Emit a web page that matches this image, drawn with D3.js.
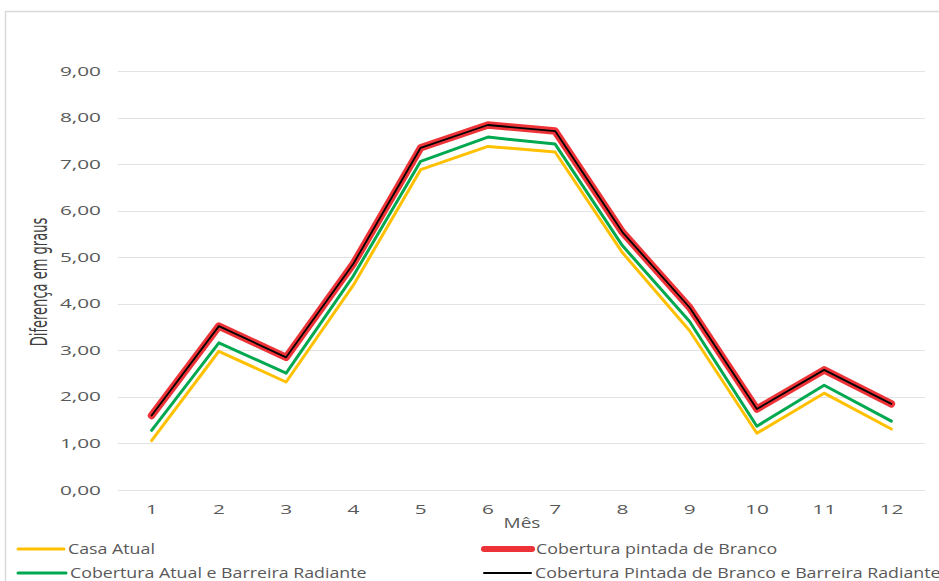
<!DOCTYPE html>
<html>
<head>
<meta charset="utf-8">
<script src="https://cdn.jsdelivr.net/npm/d3@7"></script>
<style>
  html, body { margin: 0; padding: 0; background: #fff; }
  svg { display: block; }
</style>
</head>
<body>
<svg id="chart" width="939" height="581"></svg>
<script>
const months = ["1","2","3","4","5","6","7","8","9","10","11","12"];
const casaAtual = [1.06, 2.98, 2.32, 4.40, 6.88, 7.38, 7.26, 5.10, 3.42, 1.22, 2.08, 1.31];
const coberturaAtualBarreira = [1.28, 3.16, 2.51, 4.60, 7.06, 7.58, 7.43, 5.25, 3.62, 1.37, 2.25, 1.48];
const coberturaPintada = [1.60, 3.52, 2.85, 4.86, 7.35, 7.84, 7.71, 5.54, 3.92, 1.74, 2.58, 1.85];
const coberturaPintadaBarreira = [1.60, 3.52, 2.85, 4.86, 7.35, 7.84, 7.71, 5.54, 3.92, 1.74, 2.58, 1.85];
const yTicks = [0, 1, 2, 3, 4, 5, 6, 7, 8, 9];
const seriesNames = ["Casa Atual", "Cobertura pintada de Branco", "Cobertura Atual e Barreira Radiante", "Cobertura Pintada de Branco e Barreira Radiante"];

const svg = d3.select("#chart");
const SX = 1.6;   // horizontal stretch of tick text
const SXL = 1.27; // horizontal stretch of legend text
const font = "'Open Sans', 'Noto Sans', sans-serif";

// chart frame
svg.append("rect").attr("x", 5.5).attr("y", 11.5).attr("width", 960).attr("height", 600)
  .attr("fill", "#fff").attr("stroke", "#d9d9d9").attr("stroke-width", 1.5);

const x = d3.scalePoint().domain(months).range([118, 925]).padding(0.5);
const y = d3.scaleLinear().domain([0, 9]).range([490, 71]);

// gridlines
svg.append("g").selectAll("line").data(yTicks).join("line")
  .attr("x1", 118).attr("x2", 925)
  .attr("y1", d => Math.round(y(d)) + 0.5).attr("y2", d => Math.round(y(d)) + 0.5)
  .attr("stroke", "#e3e3e3").attr("stroke-width", 1.2);

const fmt = d => d3.format(".2f")(d).replace(".", ",");

// y tick labels
svg.append("g").selectAll("text").data(yTicks).join("text")
  .attr("transform", d => `translate(101,${y(d) + 4.5}) scale(${SX},1)`)
  .attr("text-anchor", "end")
  .attr("font-family", font).attr("font-size", 13).attr("fill", "#595959")
  .text(fmt);

// x tick labels
svg.append("g").selectAll("text").data(months).join("text")
  .attr("transform", d => `translate(${x(d)},${514}) scale(${SX},1)`)
  .attr("text-anchor", "middle")
  .attr("font-family", font).attr("font-size", 13).attr("fill", "#595959")
  .text(d => d);

// axis titles
svg.append("text")
  .attr("transform", `translate(522,528) scale(${SXL},1)`)
  .attr("text-anchor", "middle")
  .attr("font-family", font).attr("font-size", 15).attr("fill", "#595959")
  .text("Mês");

svg.append("text")
  .attr("transform", `translate(47,282) rotate(-90) scale(1,${SX})`)
  .attr("text-anchor", "middle")
  .attr("font-family", "'Liberation Sans Narrow', 'DejaVu Sans Condensed', sans-serif")
  .attr("font-size", 14.5).attr("fill", "#404040")
  .text("Diferença em graus");

// lines
const line = d3.line().x((d, i) => x(months[i])).y(d => y(d));
const seriesDefs = [
  { data: casaAtual, color: "#FFC000", width: 3 },
  { data: coberturaAtualBarreira, color: "#00A84F", width: 3 },
  { data: coberturaPintada, color: "#EE3338", width: 7.5 },
  { data: coberturaPintadaBarreira, color: "#000000", width: 1.8 }
];
svg.append("g").selectAll("path").data(seriesDefs).join("path")
  .attr("d", d => line(d.data))
  .attr("fill", "none")
  .attr("stroke", d => d.color)
  .attr("stroke-width", d => d.width)
  .attr("stroke-linejoin", "round")
  .attr("stroke-linecap", "round");

// legend
const legendItems = [
  { name: seriesNames[0], color: "#FFC000", width: 3, x1: 18, x2: 64, ty: 549 },
  { name: seriesNames[1], color: "#EE3338", width: 6, x1: 484, x2: 532, ty: 549 },
  { name: seriesNames[2], color: "#00A84F", width: 3, x1: 18, x2: 66, ty: 573 },
  { name: seriesNames[3], color: "#000000", width: 2, x1: 484, x2: 531, ty: 573 }
];
const lg = svg.append("g").selectAll("g").data(legendItems).join("g");
lg.append("line")
  .attr("x1", d => d.x1).attr("x2", d => d.x2)
  .attr("y1", d => d.ty).attr("y2", d => d.ty)
  .attr("stroke", d => d.color).attr("stroke-width", d => d.width)
  .attr("stroke-linecap", "round");
lg.append("text")
  .attr("transform", d => `translate(${d.x2 + 4},${d.ty + 5}) scale(${SXL},1)`)
  .attr("font-family", font).attr("font-size", 14).attr("fill", "#595959")
  .text(d => d.name);
</script>
</body>
</html>
